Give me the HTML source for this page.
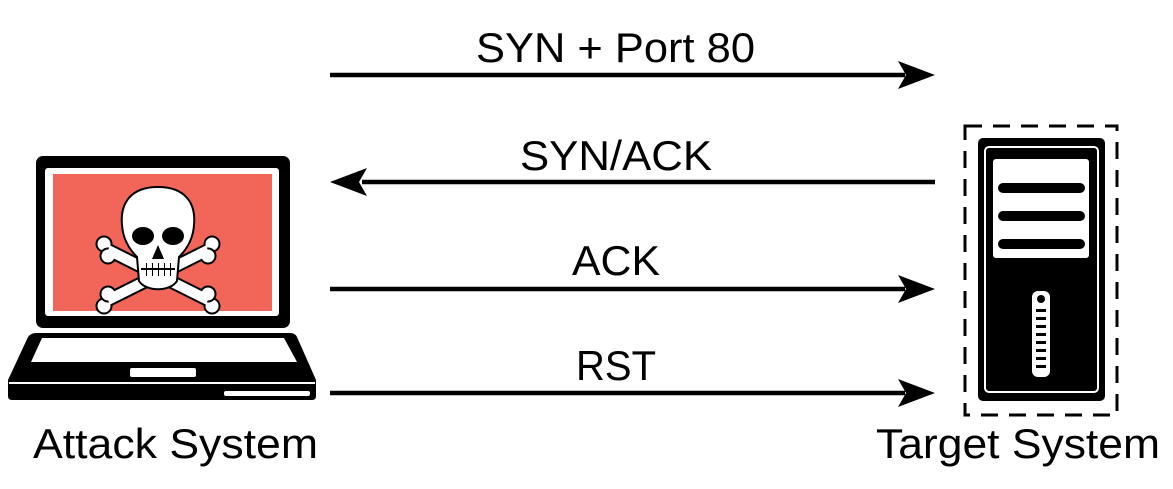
<!DOCTYPE html>
<html><head><style>
html,body{margin:0;padding:0;background:#fff;}
svg{display:block;}
text{font-family:"Liberation Sans",sans-serif;fill:#000;}
</style></head><body>
<svg width="1173" height="489" viewBox="0 0 1173 489" xmlns="http://www.w3.org/2000/svg">
<g stroke="#000" stroke-width="4.5" fill="none">
<line x1="330" y1="75" x2="905" y2="75"/>
<line x1="362" y1="182" x2="935" y2="182"/>
<line x1="330" y1="289" x2="905" y2="289"/>
<line x1="330" y1="393" x2="905" y2="393"/>
</g>
<g fill="#000">
<path d="M935,75 L898,61 L906,75 L898,89 Z"/>
<path d="M330,182 L367,168 L359,182 L367,196 Z"/>
<path d="M935,289 L898,275 L906,289 L898,303 Z"/>
<path d="M935,393 L898,379 L906,393 L898,407 Z"/>
</g>
<text x="476" y="62" font-size="42" textLength="279" lengthAdjust="spacingAndGlyphs">SYN + Port 80</text>
<text x="520" y="170" font-size="42" textLength="192" lengthAdjust="spacingAndGlyphs">SYN/ACK</text>
<text x="572" y="275" font-size="42" textLength="88" lengthAdjust="spacingAndGlyphs">ACK</text>
<text x="576" y="380" font-size="42" textLength="80" lengthAdjust="spacingAndGlyphs">RST</text>
<text x="33" y="458" font-size="42" textLength="285" lengthAdjust="spacingAndGlyphs">Attack System</text>
<text x="876" y="458" font-size="42" textLength="284" lengthAdjust="spacingAndGlyphs">Target System</text>

<rect x="36" y="156" width="254" height="172" rx="7" fill="#000"/>
<rect x="45" y="168" width="234" height="148" rx="3" fill="#fff"/>
<rect x="53" y="174" width="219" height="137" fill="#f26659"/>
<path d="M45,333 L290,333 Q295,333 297,337 L316,380 L316,396 Q316,400 312,400 L12,400 Q8,400 8,396 L8,380 L28,337 Q31,333 36,333 Z" fill="#000"/>
<path d="M42,338 L284,338 L297,362 L31,362 Z" fill="#fff"/>
<rect x="130" y="368" width="66" height="9" rx="2" fill="#fff"/>
<rect x="9" y="382" width="306" height="2" fill="#fff"/>
<rect x="224" y="391" width="86" height="5" rx="2" fill="#fff"/>
<g stroke="#000" stroke-width="2" fill="#fff">
<path d="M108,250 L208,300" stroke-width="14" stroke="#000"/>
<path d="M208,250 L108,300" stroke-width="14" stroke="#000"/>
<circle cx="104" cy="244" r="7.5"/><circle cx="108" cy="256" r="7.5"/>
<circle cx="212" cy="244" r="7.5"/><circle cx="208" cy="256" r="7.5"/>
<circle cx="104" cy="306" r="7.5"/><circle cx="108" cy="294" r="7.5"/>
<circle cx="212" cy="306" r="7.5"/><circle cx="208" cy="294" r="7.5"/>
<path d="M108,250 L208,300" stroke-width="10" stroke="#fff"/>
<path d="M208,250 L108,300" stroke-width="10" stroke="#fff"/>
<path d="M158,187 C130,187 120,204 122,225 C123,241 131,251 137,257 L139,281 C146,292 170,292 177,281 L179,257 C185,251 193,241 194,225 C196,204 186,187 158,187 Z"/>
</g>
<g fill="#000">
<ellipse cx="143" cy="236" rx="11" ry="9"/>
<ellipse cx="173" cy="236" rx="11" ry="9"/>
<path d="M158,245 L152,259 L164,259 Z"/>
<rect x="141" y="268" width="34" height="2"/>
<rect x="146" y="263" width="1" height="13"/><rect x="152" y="263" width="1" height="13"/>
<rect x="158" y="263" width="1" height="13"/><rect x="164" y="263" width="1" height="13"/><rect x="170" y="263" width="1" height="13"/>
</g>

<rect x="965" y="126" width="152" height="289" fill="none" stroke="#000" stroke-width="3" stroke-dasharray="17,11"/>
<rect x="978" y="138" width="127" height="263" rx="5" fill="#000"/>
<rect x="985" y="147" width="113" height="245" rx="4" fill="none" stroke="#fff" stroke-width="2"/>
<rect x="993" y="159" width="96" height="99" rx="3" fill="#fff"/>
<rect x="998" y="183" width="87" height="10" rx="5" fill="#000"/>
<rect x="998" y="211" width="87" height="10" rx="5" fill="#000"/>
<rect x="998" y="239" width="87" height="10" rx="5" fill="#000"/>
<rect x="1032" y="291" width="18" height="86" rx="6" fill="#fff"/>
<circle cx="1041" cy="299" r="4" fill="#000"/>
<g fill="#000">
<rect x="1036" y="309" width="10" height="3"/><rect x="1036" y="317" width="10" height="3"/>
<rect x="1036" y="325" width="10" height="3"/><rect x="1036" y="333" width="10" height="3"/>
<rect x="1036" y="341" width="10" height="3"/><rect x="1036" y="349" width="10" height="3"/>
<rect x="1036" y="357" width="10" height="3"/><rect x="1036" y="365" width="10" height="3"/>
</g>
</svg>
</body></html>
